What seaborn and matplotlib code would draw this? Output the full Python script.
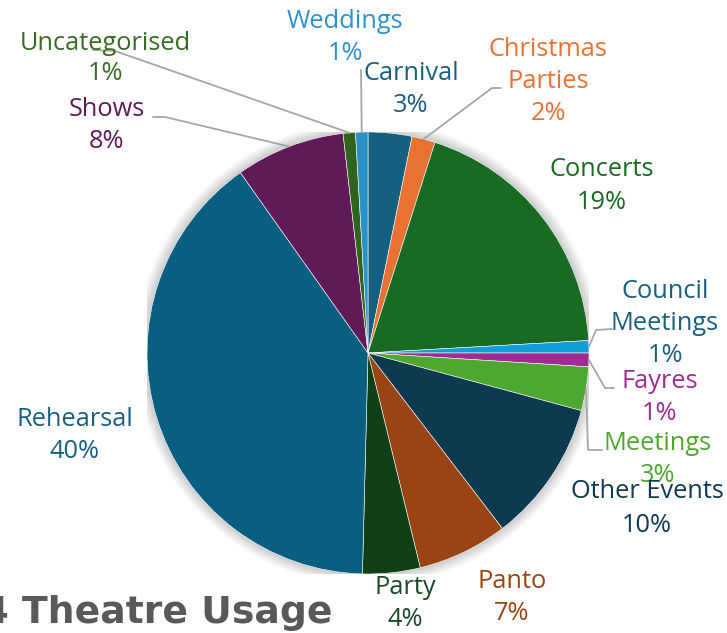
import numpy as np
import matplotlib
matplotlib.use("Agg")
import matplotlib.pyplot as plt
import seaborn as sns
from matplotlib.lines import Line2D
from matplotlib.patches import Circle

# ---- data ----
categories = ["Carnival", "Christmas Parties", "Concerts", "Council Meetings", "Fayres",
              "Meetings", "Other Events", "Panto", "Party", "Rehearsal", "Shows",
              "Uncategorised", "Weddings"]
values = [3.2, 1.7, 19.2, 0.9, 1.0, 3.2, 10.4, 6.6, 4.2, 39.8, 8.0, 0.9, 0.9]
title = "2024 Theatre Usage"

colors = ["#156082", "#E97132", "#196B24", "#0F9ED5", "#A02B93", "#4EA72E",
          "#0D3A4E", "#9A4313", "#0F4016", "#095F80", "#601A58", "#2F641C", "#2A90C8"]
label_colors = ["#1A5F80", "#E97132", "#196B24", "#1A5F80", "#A02B93", "#4EA72E",
                "#0F3A50", "#9A4313", "#1B4A26", "#17607F", "#601A58", "#3A6B25", "#2A93CC"]

sns.set_theme(style="white")
plt.rcParams['font.family'] = ['Open Sans', 'DejaVu Sans']

W, H = 727, 633
fig = plt.figure(figsize=(W / 100, H / 100), dpi=100)
fig.patch.set_facecolor("white")

cx, cy, r = 368, 353, 221
ax = fig.add_axes([(cx - r) / W, (H - cy - r) / H, 2 * r / W, 2 * r / H])

wedges, _ = ax.pie(values, colors=colors, startangle=90, counterclock=False, radius=1.0,
                   wedgeprops=dict(edgecolor="white", linewidth=0.4))
for w in wedges:
    w.set_zorder(2)

# soft shadow
for i in range(10):
    ax.add_patch(Circle((0, 0), 1.0 + 0.005 * (i + 1), color="black", alpha=0.018, lw=0, zorder=0))

ax.set_xlim(-1, 1)
ax.set_ylim(-1, 1)
ax.set_aspect("equal")
ax.axis("off")

total = sum(values)
pcts = [f"{round(v / total * 100)}%" for v in values]

# label layout (pixel centres of each line)
layout = {
    "Carnival": [(411, 72), (411, 103)],
    "Christmas Parties": [(548, 47), (548, 80), (548, 112)],
    "Concerts": [(602, 168), (602, 201)],
    "Council Meetings": [(665, 290), (665, 322), (665, 354)],
    "Fayres": [(660, 380), (660, 412)],
    "Meetings": [(658, 442), (658, 474)],
    "Other Events": [(647, 490), (647, 523)],
    "Panto": [(512, 580), (512, 612)],
    "Party": [(405, 586), (405, 618)],
    "Rehearsal": [(75, 417), (75, 449)],
    "Shows": [(107, 108), (107, 140)],
    "Uncategorised": [(105, 41), (105, 72)],
    "Weddings": [(345, 20), (345, 52)],
}
leaders = {
    "Weddings": [(361, 70)],
    "Uncategorised": [(93, 50), (115, 51)],
    "Shows": [(153, 117), (165, 117)],
    "Christmas Parties": [(501, 88), (492, 88)],
    "Council Meetings": [(612, 329), (596, 330)],
    "Fayres": [(614, 388), (605, 388)],
    "Meetings": [(602, 450), (588, 450)],
}

def fx(x):
    return x / W

def fy(y):
    return 1 - y / H

cum = np.cumsum([0] + values[:-1])
for i, cat in enumerate(categories):
    words = cat.split(" ")
    lines = words + [pcts[i]]
    if cat == "Other Events":
        lines = [cat, pcts[i]]
    for (x, y), txt in zip(layout[cat], lines):
        fig.text(fx(x), fy(y + 2), txt, ha="center", va="center", fontsize=18.3,
                 color=label_colors[i], zorder=5)
    if cat in leaders:
        mid = (cum[i] + values[i] / 2) / total * 2 * np.pi
        ex = cx + r * np.sin(mid)
        ey = cy - r * np.cos(mid)
        pts = leaders[cat] + [(ex, ey)]
        fig.add_artist(Line2D([fx(p[0]) for p in pts], [fy(p[1]) for p in pts],
                              color="#A6A6A6", lw=1.3, zorder=1))

fig.text(fx(332), fy(623), title, ha="right", va="baseline", fontsize=27.2,
         fontweight="bold", color="#595959", family=["DejaVu Sans"])

fig.savefig("out.png", dpi=100, facecolor="white")
